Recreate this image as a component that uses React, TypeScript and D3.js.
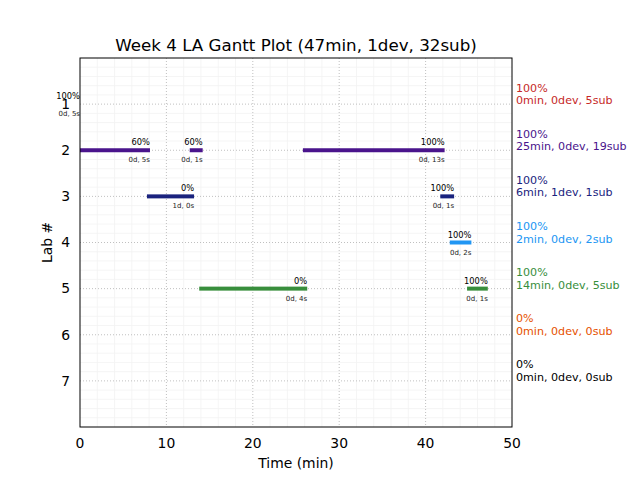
import React from "react";
import * as d3 from "d3";

const labs = [1, 2, 3, 4, 5, 6, 7];
const labColors = ["#c62828", "#4a148c", "#1a237e", "#2196f3", "#388e3c", "#e65100", "#000000"];
const summaryPct = ["100%", "100%", "100%", "100%", "100%", "0%", "0%"];
const summaryText = [
  "0min, 0dev, 5sub",
  "25min, 0dev, 19sub",
  "6min, 1dev, 1sub",
  "2min, 0dev, 2sub",
  "14min, 0dev, 5sub",
  "0min, 0dev, 0sub",
  "0min, 0dev, 0sub",
];

const segLab = [1, 2, 2, 2, 3, 3, 4, 5, 5];
const segStart = [0, 0, 12.7, 25.8, 7.75, 41.7, 42.8, 13.8, 44.8];
const segEnd = [0, 8.1, 14.2, 42.2, 13.2, 43.3, 45.3, 26.3, 47.2];
const segPct = ["100%", "60%", "60%", "100%", "0%", "100%", "100%", "0%", "100%"];
const segDur = ["0d, 5s", "0d, 5s", "0d, 1s", "0d, 13s", "1d, 0s", "0d, 1s", "0d, 2s", "0d, 4s", "0d, 1s"];

const xTicks = [0, 10, 20, 30, 40, 50];
const title = "Week 4 LA Gantt Plot (47min, 1dev, 32sub)";

const W = 640, H = 480;
const L = 80, R = 512, T = 58, B = 427;
const FONT = "DejaVu Sans, sans-serif";

export default function App() {
  const x = d3.scaleLinear().domain([0, 50]).range([L, R]);
  const y = d3.scaleLinear().domain([0, 8]).range([T, B]);
  const xMinor = d3.range(0, 50.001, 2).filter((v) => v % 10 !== 0);
  const yMinor = d3.range(0, 8.001, 0.2).map((v) => Math.round(v * 10) / 10).filter((v) => Math.abs(v - Math.round(v)) > 1e-6);

  return (
    <svg width={W} height={H} style={{ position: "absolute", left: 0, top: 0, background: "#fff" }} fontFamily={FONT}>
      <rect x={0} y={0} width={W} height={H} fill="#fff" />
      {xMinor.map((v) => (
        <line key={"xm" + v} x1={x(v)} x2={x(v)} y1={T} y2={B} stroke="#f3f3f3" strokeWidth={0.8} />
      ))}
      {yMinor.map((v) => (
        <line key={"ym" + v} x1={L} x2={R} y1={y(v)} y2={y(v)} stroke="#f3f3f3" strokeWidth={0.8} />
      ))}
      {xTicks.slice(1, -1).map((v) => (
        <line key={"xg" + v} x1={x(v)} x2={x(v)} y1={T} y2={B} stroke="#b0b0b0" strokeWidth={0.8} strokeDasharray="1,2" />
      ))}
      {labs.map((v) => (
        <line key={"yg" + v} x1={L} x2={R} y1={y(v)} y2={y(v)} stroke="#b0b0b0" strokeWidth={0.8} strokeDasharray="1,2" />
      ))}
      {segLab.map((lab, i) => (
        <rect key={"b" + i} x={x(segStart[i])} y={y(lab) - 2} width={x(segEnd[i]) - x(segStart[i])} height={4} fill={labColors[lab - 1]} />
      ))}
      <rect x={L} y={T} width={R - L} height={B - T} fill="none" stroke="#000" strokeWidth={1} />
      {labs.map((v) => (
        <text key={"yt" + v} x={L - 10} y={y(v)} dy="0.35em" textAnchor="end" fontSize={13.9} fill="#000">{v}</text>
      ))}
      {segLab.map((lab, i) => (
        <g key={"bl" + i}>
          <text x={x(segEnd[i])} y={y(lab) - 5} textAnchor="end" fontSize={8.3} fill="#000">{segPct[i]}</text>
          <text x={x(segEnd[i])} y={y(lab) + 12} textAnchor="end" fontSize={7} fill="#222">{segDur[i]}</text>
        </g>
      ))}
      {xTicks.map((v) => (
        <text key={"xt" + v} x={x(v)} y={448} textAnchor="middle" fontSize={13.9} fill="#000">{v}</text>
      ))}
      {labs.map((v, i) => (
        <g key={"s" + v} fill={labColors[i]} fontSize={11.1}>
          <text x={R + 4} y={y(v) - 12.5}>{summaryPct[i]}</text>
          <text x={R + 4} y={y(v)}>{summaryText[i]}</text>
        </g>
      ))}
      <text x={(L + R) / 2} y={51} textAnchor="middle" fontSize={16.7} fill="#000">{title}</text>
      <text x={(L + R) / 2} y={468} textAnchor="middle" fontSize={13.9} fill="#000">Time (min)</text>
      <text transform={`translate(52,${(T + B) / 2}) rotate(-90)`} textAnchor="middle" fontSize={13.9} fill="#000">Lab #</text>
    </svg>
  );
}
